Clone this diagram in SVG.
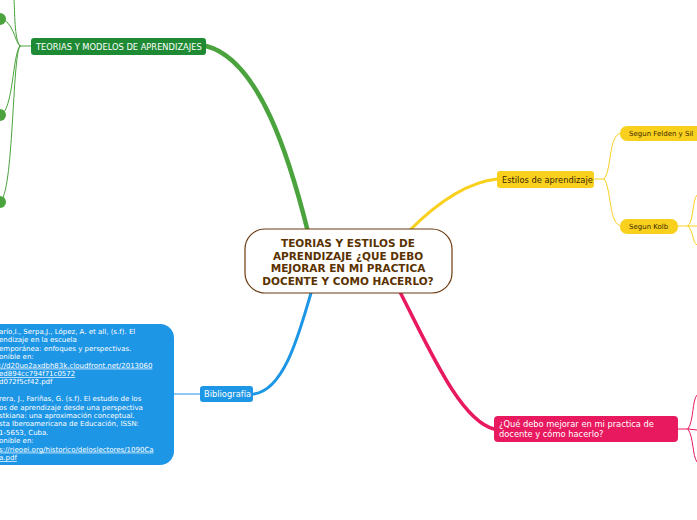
<svg xmlns="http://www.w3.org/2000/svg" width="697" height="520" viewBox="0 0 697 520">
<style>
.t{font-family:"DejaVu Sans",Verdana,sans-serif}
.w{fill:#fff}
.d{fill:#3a2a00}
.ref{font-size:7px;fill:#fff}
.u{text-decoration:underline}
</style>
<rect width="697" height="520" fill="#fff"/>
<g id="connectors" fill="none" stroke-linecap="round">
<path d="M308 232 C290 160 260 60 206 46" stroke="#4aa33d" stroke-width="4.5"/>
<path d="M206 46 C260 60 290 160 308 232" stroke="#4aa33d" stroke-width="1"/>
<path d="M31 46 L20 46 C14 40 14 22 0 18" stroke="#4aa33d" stroke-width="1"/>
<path d="M20 46 C14 40 15 10 14 0" stroke="#4aa33d" stroke-width="1"/>
<path d="M20 46 C12 55 14 110 0 116" stroke="#4aa33d" stroke-width="1"/>
<path d="M20 46 C12 55 14 195 0 202" stroke="#4aa33d" stroke-width="1"/>
<path d="M410 230 C440 200 470 182 497 179" stroke="#f9d01e" stroke-width="3"/>
<path d="M594 179 L604 179 C612 170 608 133 622 133" stroke="#f9d01e" stroke-width="1"/>
<path d="M604 179 C612 188 608 226 622 226" stroke="#f9d01e" stroke-width="1"/>
<path d="M678 226 L688 226 C694 220 692 200 697 195" stroke="#f9d01e" stroke-width="1"/>
<path d="M688 226 L697 226 M688 226 C694 232 692 242 697 245" stroke="#f9d01e" stroke-width="1"/>
<path d="M400 292 C430 350 460 420 494 429" stroke="#e8195e" stroke-width="3.5"/>
<path d="M678 429 L688 429 C694 420 692 400 697 395" stroke="#e8195e" stroke-width="1"/>
<path d="M688 429 L697 430 M688 429 C694 438 692 455 697 462" stroke="#e8195e" stroke-width="1"/>
<path d="M311 293 C300 330 285 390 254 394" stroke="#1e96e6" stroke-width="3"/>
<path d="M200 394 L174 394" stroke="#1e96e6" stroke-width="1.2"/>
</g>
<g id="central">
<rect x="245" y="229" width="207" height="64" rx="20" fill="#fff" stroke="#6b3a10" stroke-width="1.2"/>
<text class="t" font-size="10.5" font-weight="bold" fill="#5a3200" text-anchor="middle">
<tspan x="348" y="247">TEORIAS Y ESTILOS DE</tspan><tspan x="348" y="260">APRENDIZAJE ¿QUE DEBO</tspan><tspan x="348" y="272">MEJORAR EN MI PRACTICA</tspan><tspan x="348" y="285">DOCENTE Y COMO HACERLO?</tspan></text>
</g>
<g id="teorias">
<rect x="31" y="38" width="175" height="17" rx="3" fill="#1e8a34"/>
<text class="t w" x="36" y="50" font-size="8.3">TEORIAS Y MODELOS DE APRENDIZAJES</text>
</g>
<g id="g1"><circle cx="0" cy="19" r="6" fill="#4aa33d"/></g>
<g id="g2"><circle cx="0" cy="115" r="6" fill="#4aa33d"/></g>
<g id="g3"><circle cx="0" cy="202" r="6" fill="#4aa33d"/></g>
<g id="estilos">
<rect x="497" y="171" width="97" height="17" rx="3" fill="#f9d01e"/>
<text class="t d" x="502" y="183" font-size="8.3">Estilos de aprendizaje</text>
</g>
<g id="felden">
<rect x="620" y="126" width="85" height="15" rx="7" fill="#f9d01e"/>
<text class="t d" x="629" y="136" font-size="7">Segun  Felden y Sil</text>
</g>
<g id="kolb">
<rect x="620" y="219" width="58" height="15" rx="7" fill="#f9d01e"/>
<text class="t d" x="629" y="229" font-size="7">Segun Kolb</text>
</g>
<g id="mejorar">
<rect x="494" y="416" width="184" height="26" rx="4" fill="#e8195e"/>
<text class="t w" font-size="8.3"><tspan x="499" y="427">¿Qué debo mejorar en mi practica de</tspan><tspan x="499" y="437">docente y cómo hacerlo?</tspan></text>
</g>
<g id="bibliografia">
<rect x="200" y="386" width="53" height="16" rx="3" fill="#1e96e6"/>
<text class="t w" x="204" y="397" font-size="8.3">Bibliografía</text>
</g>
<g id="referencias">
<rect x="-20" y="324" width="194" height="141" rx="14" fill="#1e96e6"/>
<text class="t ref" x="-1">
<tspan x="-1" y="334">arío,I., Serpa,J., López, A. et all, (s.f). El</tspan>
<tspan x="-1" y="342.4">endizaje en la escuela</tspan>
<tspan x="-1" y="350.8">emporánea: enfoques y perspectivas.</tspan>
<tspan x="-1" y="359.2">onible en:</tspan>
<tspan x="-1" y="367.6" class="u">://d20uo2axdbh83k.cloudfront.net/2013060</tspan>
<tspan x="-1" y="376" class="u">ed894cc794f71c0572</tspan>
<tspan x="-1" y="384.4">d072f5cf42.pdf</tspan>
<tspan x="-1" y="401.2">rera, J., Fariñas, G. (s.f). El estudio de los</tspan>
<tspan x="-1" y="409.6">os de aprendizaje desde una perspectiva</tspan>
<tspan x="-1" y="418">stkiana: una aproximación conceptual.</tspan>
<tspan x="-1" y="426.4">sta Iberoamericana de Educación, ISSN:</tspan>
<tspan x="-1" y="434.8">1-5653, Cuba.</tspan>
<tspan x="-1" y="443.2">onible en:</tspan>
<tspan x="-1" y="451.6" class="u">s://rieoei.org/historico/deloslectores/1090Ca</tspan>
<tspan x="-1" y="460" class="u">a.pdf</tspan>
</text>
</g>
</svg>
